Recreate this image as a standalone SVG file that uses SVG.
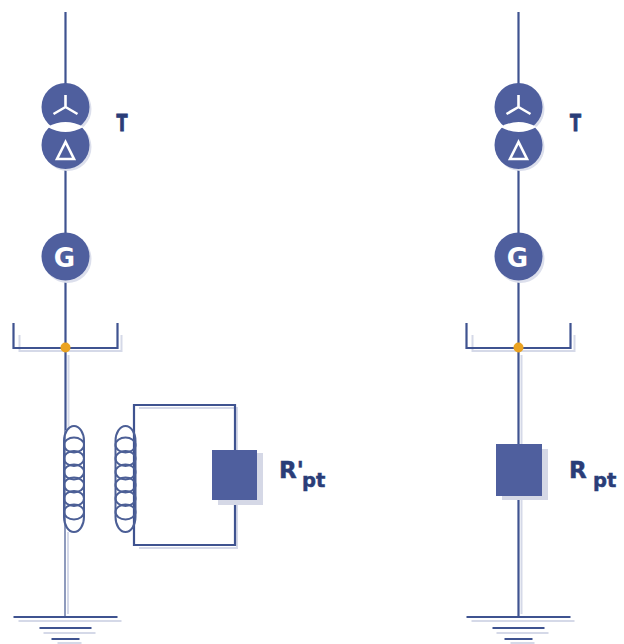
<svg xmlns="http://www.w3.org/2000/svg" width="624" height="644" viewBox="0 0 624 644">
<style>
.w{fill:none;stroke:#3f5390;stroke-width:2.2}
.sh{fill:none;stroke:#d5d9e8;stroke-width:2}
.c{fill:none;stroke:#4c5f96;stroke-width:2}
.b{fill:#4f5f9e}
.bs{fill:#d5d8e6}
.g{fill:none;stroke:#fff;stroke-width:2.6}
.t{font-family:"DejaVu Sans",sans-serif;font-weight:700;fill:#2a3d78;stroke:#2a3d78;stroke-width:.5}
</style>
<defs>
<g id="xf">
<circle cx="2" cy="109" r="24" fill="#dcdfec"/><circle cx="2" cy="147" r="24" fill="#dcdfec"/>
<circle cx="0" cy="107" r="24" class="b"/><circle cx="0" cy="145" r="24" class="b"/>
<path d="M-18 127Q0 117 18 127Q0 137 -18 127Z" fill="#fff"/>
<path class="g" d="M0 95V107M0 107L-12 114M0 107L12 114"/>
<path class="g" d="M0 142L-8.500 159H8.500Z"/>
</g>
<g id="gen">
<circle cx="2" cy="259" r="24" fill="#dcdfec"/>
<circle cx="0" cy="256.500" r="24" class="b"/>
<text x="-1" y="266.500" text-anchor="middle" font-family="'DejaVu Sans',sans-serif" font-weight="700" font-size="26" fill="#fff">G</text>
</g>
<g id="bus">
<path class="sh" d="M-46 335V351H56V335"/>
<path class="w" d="M-52 323V348H52V323"/>
</g>
<g id="gnd">
<path class="sh" d="M-47 621H56M-22 633H30M-8 643H16"/>
<path class="w" d="M-52 617H52M-26 628H26M-14 639H14"/>
</g>
<g id="coil">
<rect x="-10" y="426" width="20" height="106" rx="10" ry="15" class="c"/>
<ellipse cx="0" cy="445" rx="10" ry="7.500" class="c"/>
<ellipse cx="0" cy="458.500" rx="10" ry="7.500" class="c"/>
<ellipse cx="0" cy="472" rx="10" ry="7.500" class="c"/>
<ellipse cx="0" cy="485" rx="10" ry="7.500" class="c"/>
<ellipse cx="0" cy="498.500" rx="10" ry="7.500" class="c"/>
<ellipse cx="0" cy="512" rx="10" ry="7.500" class="c"/>
</g>
</defs>
<g id="connectors">
<path class="sh" d="M68.500 355V430M68 532V614"/>
<path class="w" d="M65.500 12V430"/>
<path d="M65 430V617" stroke="#8f9bbd" stroke-width="2" fill="none"/>
<path class="sh" d="M139 408H237V548H139"/>
<path class="w" d="M134 405H235V545H134Z"/>
<path class="sh" d="M521.500 355V614"/>
<path class="w" d="M518.500 12V617"/>
</g>
<g id="T-left"><use href="#xf" x="65.500"/></g>
<g id="G-left"><use href="#gen" x="65.500"/></g>
<g id="bus-left"><use href="#bus" x="65.500"/><circle cx="65.500" cy="347.500" r="5" fill="#eba321"/></g>
<g id="coil-primary"><use href="#coil" x="74"/></g>
<g id="coil-secondary"><use href="#coil" x="125.500"/></g>
<g id="R-prime"><rect x="218" y="453" width="45" height="52" class="bs"/><rect x="212" y="450" width="45" height="50" class="b"/></g>
<g id="ground-left"><use href="#gnd" x="65.500"/></g>
<g id="T-right"><use href="#xf" x="518.500"/></g>
<g id="G-right"><use href="#gen" x="518.500"/></g>
<g id="bus-right"><use href="#bus" x="518.500"/><circle cx="518.500" cy="347.500" r="5" fill="#eba321"/></g>
<g id="R"><rect x="502" y="449" width="46" height="51" class="bs"/><rect x="496" y="444" width="46" height="52" class="b"/></g>
<g id="ground-right"><use href="#gnd" x="518.500"/></g>
<g id="labels">
<text class="t" x="116.500" y="131" font-size="23" textLength="11" lengthAdjust="spacingAndGlyphs" stroke-width="1" style="stroke-width:1">T</text>
<text class="t" x="570" y="131" font-size="23" textLength="11" lengthAdjust="spacingAndGlyphs" style="stroke-width:1">T</text>
<text class="t" x="279" y="478" font-size="23">R'</text>
<text class="t" x="302" y="487" font-size="19.500">pt</text>
<text class="t" x="569" y="478" font-size="23">R</text>
<text class="t" x="593" y="487" font-size="19.500">pt</text>
</g>
</svg>
